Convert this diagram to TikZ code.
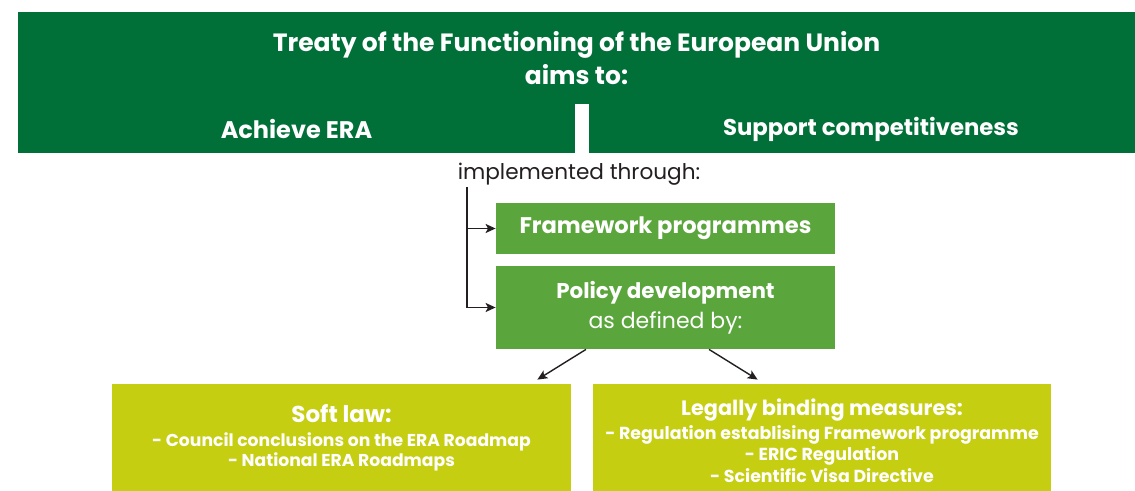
\documentclass[tikz,border=0pt]{standalone}
\usepackage{fontspec}
\setmainfont{Poppins}
\usetikzlibrary{arrows.meta}

\definecolor{treatygreen}{HTML}{006F38}
\definecolor{progreen}{HTML}{5BA63C}
\definecolor{lawlime}{HTML}{C6CE12}
\definecolor{linegray}{HTML}{231F20}

\tikzset{
    box/.style={inner sep=0pt, align=center, text=white, font=\bfseries},
    conn/.style={draw=linegray, line width=0.7pt, -{Stealth[length=5pt, width=4.5pt, inset=1.2pt]}}
}

\begin{document}
\begin{tikzpicture}[x={(0.5pt,0)}, y={(0,-0.5pt)}]
            \useasboundingbox (0, 0) rectangle (1135, 491);

            \node[box, fill=treatygreen, minimum width=558.5pt, minimum height=46pt, font=\bfseries\fontsize{12.5}{16.5}\selectfont] (treaty) at (576.5, 58) {Treaty of the Functioning of the European Union\\aims to:};
            \node[box, fill=treatygreen, minimum width=278.5pt, minimum height=24.5pt, font=\bfseries\fontsize{12}{12}\selectfont] (era) at (296.5, 129) {Achieve ERA};
            % runs on past the right edge of the page
            \node[box, fill=treatygreen, minimum width=282pt, minimum height=24.5pt, font=\bfseries\fontsize{11.4}{12}\selectfont] (compet) at (871, 129) {Support competitiveness};

            \node[text=linegray, font=\fontsize{10.8}{12}\selectfont, inner sep=0pt] (impl) at (579, 174) {implemented through:};
            \coordinate (trunk) at (467, 187);

            \node[box, fill=progreen, minimum width=169.5pt, minimum height=25.5pt, font=\bfseries\fontsize{11.3}{12}\selectfont] (fw) at (665.5, 228.5) {Framework programmes};
            \node[box, fill=progreen, minimum width=169.5pt, minimum height=41.5pt, font=\fontsize{11}{15}\selectfont] (policy) at (665.5, 307.5) {\textbf{\fontsize{10.7}{15}\selectfont Policy development}\\as defined by:};

            \node[box, fill=lawlime, minimum width=229.5pt, minimum height=53.5pt, font=\bfseries\fontsize{8.6}{10.2}\selectfont] (soft) at (341.5, 437.5) {{\fontsize{11.5}{12}\selectfont Soft law:}\\[1.8pt]- Council conclusions on the ERA Roadmap\\- National ERA Roadmaps};
            \node[box, fill=lawlime, minimum width=229pt, minimum height=53.5pt, font=\bfseries\fontsize{8.7}{10.8}\selectfont] (legal) at (822, 437.5) {{\fontsize{10.4}{12}\selectfont\rule{0pt}{11.4pt}Legally binding measures:}\\[1.2pt]- Regulation establising Framework programme\\- ERIC Regulation\\- Scientific Visa Directive};

            \draw[conn] (trunk) |- (policy.west);
            \draw[conn] (trunk |- fw.west) -- (fw.west);
            \draw[conn] ([xshift=-39.75pt]policy.south) -- ([xshift=-17pt, yshift=2pt]soft.north east);
            \draw[conn] ([xshift=21.75pt]policy.south) -- ([xshift=82.5pt, yshift=2pt]legal.north west);
        \end{tikzpicture}
\end{document}
